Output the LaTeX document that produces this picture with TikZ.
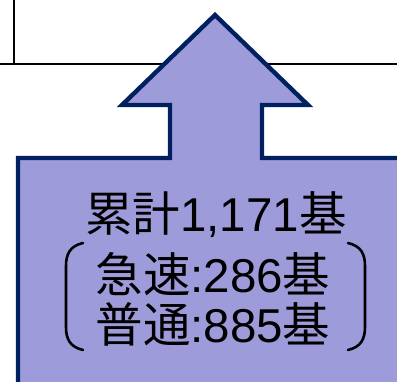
\documentclass[tikz,border=0pt]{standalone}
\usepackage{fontspec}
\setmainfont{Liberation Sans}
\newfontfamily\cjk{Noto Sans CJK JP}
\definecolor{arrowfill}{RGB}{158,155,219}
\definecolor{arrowline}{RGB}{0,32,96}
\begin{document}
\begin{tikzpicture}[x=1pt,y=-1pt,
  rule/.style={draw=black,line width=1.6pt},
  bigarrow/.style={fill=arrowfill,draw=arrowline,line width=4.4pt,line join=miter},
  label/.style={anchor=base,inner sep=0pt,font=\fontsize{47.5}{50}\selectfont},
  brak/.style={draw=black,line width=2.6pt,line cap=round}]
\useasboundingbox (0,0) rectangle (397,382);
\clip (0,0) rectangle (397,382);
\fill[white] (0,0) rectangle (397,382);
% table lines
\coordinate (vt) at (14,0);
\coordinate (vb) at (14,64);
\coordinate (hl) at (0,64);
\coordinate (hr) at (397,64);
\draw[rule] (vt) -- (vb);
\draw[rule] (hl) -- (hr);
% arrow callout
\draw[bigarrow] (18,158) -- (170,158) -- (170,105) -- (122,105) -- (215,15)
  -- (308,105) -- (262,105) -- (262,158) -- (420,158) -- (420,400) -- (18,400) -- cycle;
% texts
\node[label] (t1) at (216,232) {{\cjk 累計}1,171{\cjk 基}};
\node[label] (t2) at (213,293) {{\cjk 急速}:286{\cjk 基}};
\node[label] (t3) at (213,343) {{\cjk 普通}:885{\cjk 基}};
% brackets
\draw[brak] (83,243) .. controls (70,246) and (66,254) .. (66,266) -- (66,327)
  .. controls (66,339) and (70,347) .. (83,350);
\draw[brak] (348,243) .. controls (361,246) and (365,254) .. (365,266) -- (365,327)
  .. controls (365,339) and (361,347) .. (348,350);
\end{tikzpicture}
\end{document}
